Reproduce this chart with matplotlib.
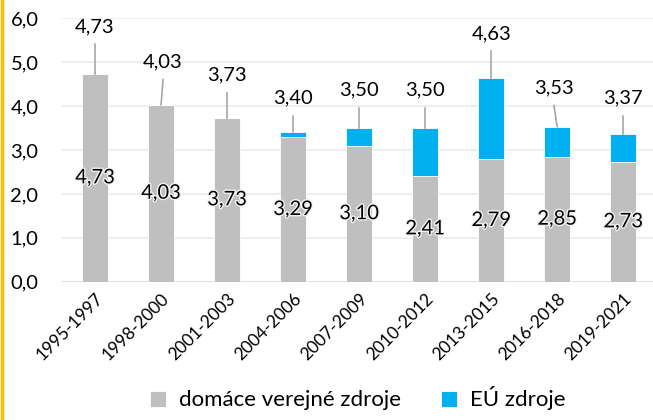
import numpy as np
import matplotlib.pyplot as plt
import matplotlib.patheffects as pe

plt.rcParams['font.family'] = ['Lato', 'DejaVu Sans']

periods = ['1995-1997', '1998-2000', '2001-2003', '2004-2006', '2007-2009',
           '2010-2012', '2013-2015', '2016-2018', '2019-2021']
domestic = [4.73, 4.03, 3.73, 3.29, 3.10, 2.41, 2.79, 2.85, 2.73]
total = [4.73, 4.03, 3.73, 3.40, 3.50, 3.50, 4.63, 3.53, 3.37]
eu = [round(t - d, 2) for t, d in zip(total, domestic)]

# where the total labels sit (data units above the bar top)
label_lift = [1.07, 0.97, 0.97, 0.78, 0.86, 0.86, 1.01, 0.88, 0.81]
label_dx = [0.0, 0.03, 0.0, 0.0, 0.0, 0.0, 0.0, -0.05, 0.0]

gray = '#BFBFBF'
blue = '#00B0F0'

fig = plt.figure(figsize=(6.53, 4.2), dpi=100)
ax = fig.add_axes([0.095, 0.329, 0.91, 0.628])

x = np.arange(len(periods))
ax.bar(x, domestic, width=0.4, color=gray, edgecolor='white', linewidth=0.6,
       label='domáce verejné zdroje', zorder=2)
ax.bar(x, eu, width=0.4, bottom=domestic, color=blue, edgecolor='white',
       linewidth=0.6, label='EÚ zdroje', zorder=2)

glow = [pe.withStroke(linewidth=2, foreground='#F2F2F2')]
for i in x:
    ax.text(i, domestic[i] / 2, f'{domestic[i]:.2f}'.replace('.', ','),
            ha='center', va='center', fontsize=14.5, color='black',
            path_effects=glow, zorder=4)
    ly = total[i] + label_lift[i]
    lx = i + label_dx[i]
    ax.plot([i, lx], [total[i], ly - 0.4], color='#A6A6A6', lw=1.2, zorder=3)
    ax.text(lx, ly, f'{total[i]:.2f}'.replace('.', ','), ha='center',
            va='center', fontsize=14.5, color='black', zorder=4)

ax.set_xlim(-0.5, len(periods) - 0.5)
ax.set_ylim(0, 6)
ax.set_yticks(np.arange(0, 6.1, 1))
ax.set_yticklabels([f'{v:.1f}'.replace('.', ',') for v in np.arange(0, 6.1, 1)])
ax.set_xticks(x)
ax.set_xticklabels(periods, rotation=45, ha='right', rotation_mode='anchor')
ax.tick_params(axis='y', length=0, pad=17, labelsize=14.5)
ax.tick_params(axis='x', length=0, pad=6, labelsize=12.5)
ax.yaxis.grid(True, color='#EBEBEB', lw=1.2, zorder=0)
ax.set_axisbelow(True)
for s in ax.spines.values():
    s.set_visible(False)
ax.axhline(0, color='#D9D9D9', lw=1.2, zorder=1)

fig.legend(loc='lower center', bbox_to_anchor=(0.548, -0.025), ncol=2,
           frameon=False, fontsize=16, handlelength=0.7, handleheight=0.7,
           columnspacing=1.8, handletextpad=0.6)

# yellow frame edge on the left
fig.add_artist(plt.Line2D([0.003, 0.003], [0, 1], color='#FFC000', lw=2.5,
                          transform=fig.transFigure))

fig.savefig('out.png', dpi=100)
